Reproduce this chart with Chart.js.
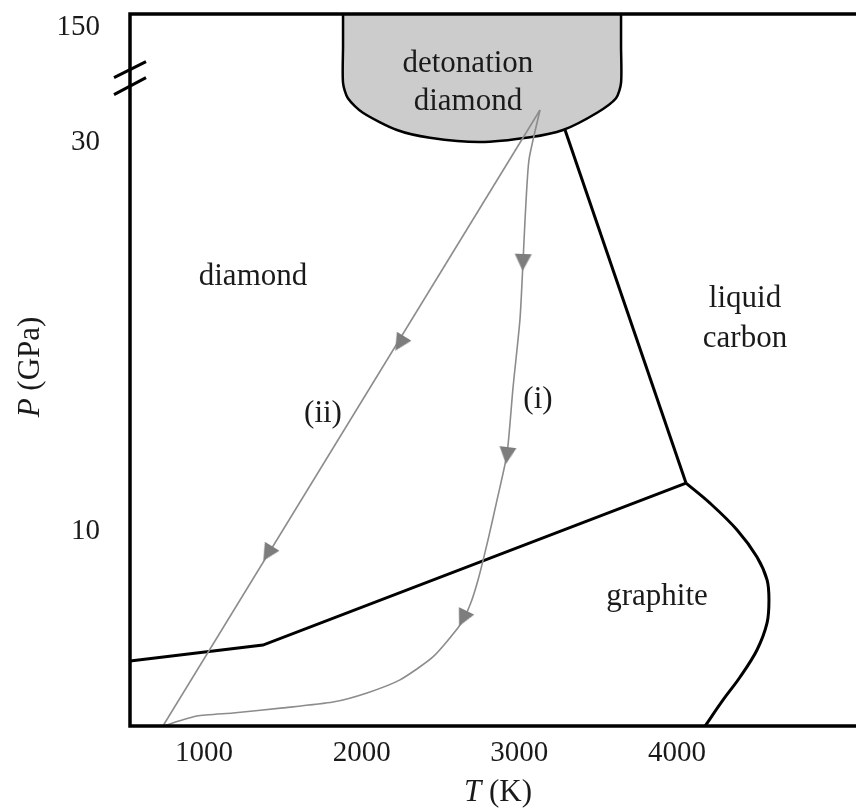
<!DOCTYPE html>
<html>
<head>
<meta charset="utf-8">
<script src="https://cdn.jsdelivr.net/npm/chart.js@4"></script>
<style>
  html, body { margin: 0; padding: 0; background: #fff; }
  canvas { display: block; }
</style>
</head>
<body>
<canvas id="phaseChart" width="856" height="809"></canvas>
<script>
// T in K, P in GPa (above 30 GPa the axis is compressed)
const xTicks = [1000, 2000, 3000, 4000];
const yTicks = [10, 30, 150];

const diamondGraphiteT = [531, 1374, 4057];
const diamondGraphiteP = [3.34, 4.16, 12.49];

const diamondLiquidT = [3290, 4057];
const diamondLiquidP = [43.0, 12.49];

const graphiteLiquidT = [4057, 4209, 4381, 4507, 4571, 4583, 4571, 4507, 4400, 4292, 4178];
const graphiteLiquidP = [12.49, 11.46, 10.08, 8.69, 7.51, 6.48, 5.30, 3.91, 2.52, 1.34, 0];

const detonationT = [1882, 1882, 1882, 1882, 1913, 2008, 2224, 2433, 2750, 3068, 3277, 3493, 3613, 3645, 3645, 3645, 3645];
const detonationP = [175, 160, 130, 92, 76, 61, 43, 35, 30.5, 35.5, 43, 61, 76, 92, 130, 160, 175];

const pathOneT = [3131, 3061, 3036, 3023, 3004, 2960, 2922, 2858, 2801, 2738, 2687, 2624, 2452, 2243, 2034, 1818, 1501, 1184, 956, 740];
const pathOneP = [63.8, 29.1, 26.0, 23.8, 20.9, 17.4, 14.0, 11.6, 9.56, 7.51, 6.22, 5.19, 3.55, 2.37, 1.70, 1.23, 0.93, 0.67, 0.51, 0];

const pathTwoT = [3131, 740];
const pathTwoP = [63.8, 0];

const arrowT = [2243, 1406, 3023, 2922, 2643];
const arrowP = [19.69, 8.89, 23.86, 13.93, 5.55];
const arrowAngle = [211.5, 211.5, 182, 187, 206];

const regionLabels = [
  { text: "detonation", T: 2674, P: 103.3 },
  { text: "diamond", T: 2674, P: 63.8 },
  { text: "diamond", T: 1311, P: 22.67 },
  { text: "liquid", T: 4431, P: 21.54 },
  { text: "carbon", T: 4431, P: 19.49 },
  { text: "(ii)", T: 1755, P: 15.63 },
  { text: "(i)", T: 3118, P: 16.35 },
  { text: "graphite", T: 3873, P: 6.22 }
];

const breakAt = 30;
const breakScale = 0.04948;
function toAxis(p) {
  return p <= breakAt ? p : breakAt + (p - breakAt) * breakScale;
}
function points(ts, ps) {
  return ts.map(function (t, i) { return { x: t, y: toAxis(ps[i]) }; });
}

const serif = "'Liberation Serif', 'DejaVu Serif', serif";
const inkColor = "#1a1a1a";
const pathColor = "#8c8c8c";

// arrowhead sprite, tip pointing up; Chart.js rotates it per point
const arrowHead = document.createElement("canvas");
arrowHead.width = 17;
arrowHead.height = 18;
(function () {
  const c = arrowHead.getContext("2d");
  c.fillStyle = "#7d7d7d";
  c.beginPath();
  c.moveTo(8.5, 0);
  c.lineTo(17, 17);
  c.lineTo(0, 17);
  c.closePath();
  c.fill();
})();

const framePlugin = {
  id: "frame",
  afterDatasetsDraw: function (chart) {
    const ctx = chart.ctx;
    const area = chart.chartArea;
    const yScale = chart.scales.y;
    const xScale = chart.scales.x;
    ctx.save();

    // frame (right side is cut off in the original)
    ctx.strokeStyle = "#000";
    ctx.lineWidth = 3.5;
    ctx.beginPath();
    ctx.moveTo(chart.width + 2, area.top);
    ctx.lineTo(area.left, area.top);
    ctx.lineTo(area.left, area.bottom);
    ctx.lineTo(chart.width + 2, area.bottom);
    ctx.stroke();

    // axis break
    const by = yScale.getPixelForValue(toAxis(97));
    ctx.lineWidth = 3;
    ctx.beginPath();
    ctx.moveTo(area.left - 16, by - 0.5);
    ctx.lineTo(area.left + 16, by - 16.5);
    ctx.moveTo(area.left - 16, by + 16.5);
    ctx.lineTo(area.left + 16, by - 0.5);
    ctx.stroke();

    // region labels
    ctx.fillStyle = inkColor;
    ctx.font = "31px " + serif;
    ctx.textAlign = "center";
    ctx.textBaseline = "alphabetic";
    regionLabels.forEach(function (l) {
      ctx.fillText(l.text, xScale.getPixelForValue(l.T), yScale.getPixelForValue(toAxis(l.P)));
    });

    // axis titles: italic symbol + upright unit
    function title(sym, unit, cx, cy, rot) {
      ctx.save();
      ctx.translate(cx, cy);
      ctx.rotate(rot);
      ctx.textAlign = "left";
      ctx.font = "italic 31px " + serif;
      const w1 = ctx.measureText(sym).width;
      ctx.font = "31px " + serif;
      const w2 = ctx.measureText(unit).width;
      const x0 = -(w1 + w2) / 2;
      ctx.font = "italic 31px " + serif;
      ctx.fillText(sym, x0, 0);
      ctx.font = "31px " + serif;
      ctx.fillText(unit, x0 + w1, 0);
      ctx.restore();
    }
    title("T", " (K)", (area.left + area.right) / 2 + 5, 801, 0);
    title("P", " (GPa)", 39, 367, -Math.PI / 2);

    ctx.restore();
  }
};

function noPad(s) {
  s.paddingTop = 0;
  s.paddingBottom = 0;
  s.paddingLeft = 0;
  s.paddingRight = 0;
}

new Chart(document.getElementById("phaseChart"), {
  type: "scatter",
  data: {
    datasets: [
      {
        data: points(arrowT, arrowP),
        pointStyle: arrowHead,
        pointRadius: 9,
        pointRotation: arrowAngle,
        showLine: false,
        order: 0
      },
      {
        data: points(pathOneT, pathOneP),
        showLine: true,
        borderColor: pathColor,
        borderWidth: 1.6,
        pointRadius: 0,
        tension: 0.2,
        order: 1
      },
      {
        data: points(pathTwoT, pathTwoP),
        showLine: true,
        borderColor: pathColor,
        borderWidth: 1.6,
        pointRadius: 0,
        order: 1
      },
      {
        data: points(diamondGraphiteT, diamondGraphiteP),
        showLine: true,
        borderColor: "#000",
        borderWidth: 3,
        pointRadius: 0,
        order: 2
      },
      {
        data: points(graphiteLiquidT, graphiteLiquidP),
        showLine: true,
        borderColor: "#000",
        borderWidth: 3,
        pointRadius: 0,
        tension: 0.35,
        order: 2
      },
      {
        data: points(detonationT, detonationP),
        showLine: true,
        borderColor: "#000",
        borderWidth: 2.5,
        backgroundColor: "#cccccc",
        fill: "shape",
        pointRadius: 0,
        tension: 0.25,
        order: 3
      },
      {
        data: points(diamondLiquidT, diamondLiquidP),
        showLine: true,
        borderColor: "#000",
        borderWidth: 3,
        pointRadius: 0,
        order: 4
      }
    ]
  },
  options: {
    responsive: false,
    animation: false,
    devicePixelRatio: 1,
    layout: { autoPadding: false, padding: { top: 14, right: 0, left: 0, bottom: 0 } },
    plugins: {
      legend: { display: false },
      tooltip: { enabled: false }
    },
    scales: {
      x: {
        type: "linear",
        min: 531,
        max: 5135,
        grid: { display: false, drawTicks: false },
        border: { display: false },
        afterBuildTicks: function (s) { s.ticks = xTicks.map(function (v) { return { value: v }; }); },
        afterFit: function (s) { s.height = 83; noPad(s); },
        ticks: {
          autoSkip: false,
          maxRotation: 0,
          padding: 10,
          color: inkColor,
          font: { family: serif, size: 29 },
          callback: function (v) { return String(v); }
        }
      },
      y: {
        type: "linear",
        min: 0,
        max: 36.61,
        grid: { display: false, drawTicks: false },
        border: { display: false },
        afterBuildTicks: function (s) { s.ticks = yTicks.map(function (v) { return { value: toAxis(v) }; }); },
        afterFit: function (s) { s.width = 130; noPad(s); },
        ticks: {
          autoSkip: false,
          padding: 30,
          color: inkColor,
          font: { family: serif, size: 29 },
          callback: function (v, i) { return String(yTicks[i]); }
        }
      }
    }
  },
  plugins: [framePlugin]
});
</script>
</body>
</html>
